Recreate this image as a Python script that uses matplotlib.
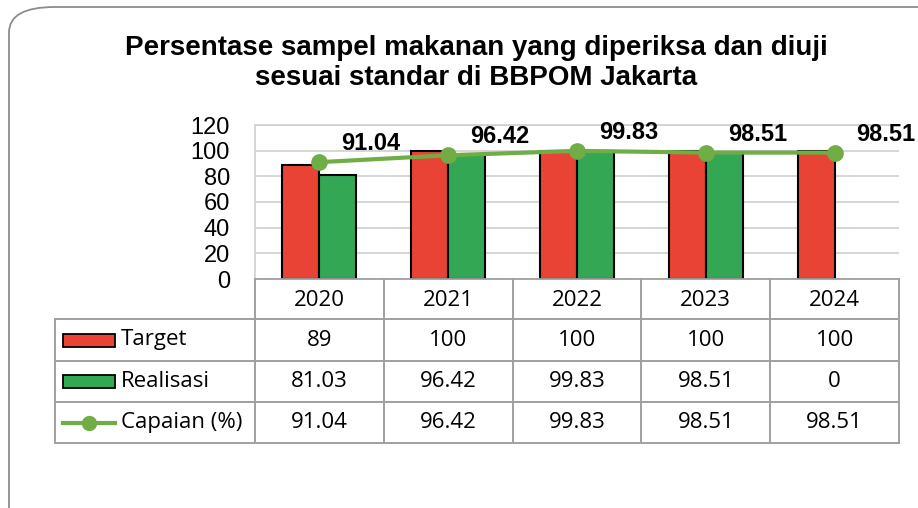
import matplotlib
matplotlib.use("Agg")
import matplotlib.pyplot as plt
from matplotlib.patches import FancyBboxPatch, Rectangle
from matplotlib.lines import Line2D

# Data
years = ["2020", "2021", "2022", "2023", "2024"]
target = [89, 100, 100, 100, 100]
realisasi = [81.03, 96.42, 99.83, 98.51, 0]
capaian = [91.04, 96.42, 99.83, 98.51, 98.51]
series_names = ["Target", "Realisasi", "Capaian (%)"]
title = "Persentase sampel makanan yang diperiksa dan diuji\nsesuai standar di BBPOM Jakarta"

RED = "#E94335"
GREEN = "#34A755"
LINE_GREEN = "#70AD47"
GRID = "#D0D0D0"
TABLE_LINE = "#A0A0A0"

W, H = 918, 508
fig = plt.figure(figsize=(W / 100, H / 100), dpi=100)
fig.patch.set_facecolor("white")


def px_rect(x0, y0, x1, y1):
    """Convert a pixel box (top-left origin) into figure fractions."""
    return [x0 / W, 1 - y1 / H, (x1 - x0) / W, (y1 - y0) / H]


# Rounded outer frame
frame = FancyBboxPatch((9 / W, -0.2), 1.2, 1.2 - 7 / H,
                       boxstyle="round,pad=0,rounding_size=0.05",
                       transform=fig.transFigure, facecolor="none",
                       edgecolor="#8C8C8C", linewidth=1.3, zorder=0)
fig.patches.append(frame)

fig.text(476 / W, 1 - 63 / H, title, ha="center", va="center",
         fontsize=20, fontweight="bold", family="Liberation Sans",
         linespacing=1.22, color="#000000")

# Plot area
PL, PR, PT, PB = 255, 899, 125, 279
ax = fig.add_axes(px_rect(PL, PT, PR, PB))
n = len(years)
xs = list(range(n))
ax.set_xlim(-0.5, n - 0.5)
ax.set_ylim(0, 120)
ax.set_yticks(range(0, 121, 20))
ax.set_xticks([])
ax.tick_params(axis="y", length=0, labelsize=17, pad=18)
for lab in ax.get_yticklabels():
    lab.set_family("Liberation Sans")
ax.grid(axis="y", color=GRID, linewidth=1.2)
ax.set_axisbelow(True)
for s in ["left", "top"]:
    ax.spines[s].set_color(GRID)
    ax.spines[s].set_linewidth(1.2)
ax.spines["right"].set_visible(False)
ax.spines["bottom"].set_color(TABLE_LINE)
ax.spines["bottom"].set_linewidth(1.3)

bw = 0.288
ax.bar([x - bw / 2 for x in xs], target, width=bw, color=RED,
       edgecolor="black", linewidth=[1.5 if v else 0 for v in target], zorder=2)
ax.bar([x + bw / 2 for x in xs], realisasi, width=bw, color=GREEN,
       edgecolor="black", linewidth=[1.5 if v else 0 for v in realisasi], zorder=2)
ax.plot(xs, capaian, color=LINE_GREEN, linewidth=3, marker="o",
        markersize=11, zorder=4, clip_on=False)
for x, v in zip(xs, capaian):
    ax.annotate(f"{v:.2f}", (x, v), xytext=(22, 7), textcoords="offset pixels",
                ha="left", va="bottom", fontsize=17, fontweight="bold",
                family="Liberation Sans", annotation_clip=False, zorder=5)

# Data table below the plot
TL, TB = 55, 443
cat_w = (PR - PL) / n
tax = fig.add_axes(px_rect(TL, PB, PR, TB))
x_left = -0.5 - (PL - TL) / cat_w
tax.set_xlim(x_left, n - 0.5)
row_h = [40, 42, 41, 41]
tot = sum(row_h)
tax.set_ylim(tot, 0)
tax.axis("off")
edges = [0]
for h in row_h:
    edges.append(edges[-1] + h)
lw = 1.4
# vertical lines
for i in range(n + 1):
    tax.plot([i - 0.5, i - 0.5], [0, tot], color=TABLE_LINE, lw=lw, clip_on=False)
tax.plot([x_left, x_left], [edges[1], tot], color=TABLE_LINE, lw=lw, clip_on=False)
# horizontal lines
for e in edges[1:]:
    tax.plot([x_left, n - 0.5], [e, e], color=TABLE_LINE, lw=lw, clip_on=False)

tfont = dict(family="Open Sans", fontsize=16, color="black")
for i, yr in enumerate(years):
    tax.text(i, (edges[0] + edges[1]) / 2 + 1, yr, ha="center", va="center", **tfont)
rows = [target, realisasi, capaian]
for r, vals in enumerate(rows):
    yc = (edges[r + 1] + edges[r + 2]) / 2
    for i, v in enumerate(vals):
        s = f"{v:g}" if r == 0 or v == 0 else f"{v:.2f}"
        tax.text(i, yc, s, ha="center", va="center", **tfont)

# Legend keys in the first column (pixel coordinates)
kx0, kx1 = 63, 115
for r, name in enumerate(series_names):
    yc_px = PB + (edges[r + 1] + edges[r + 2]) / 2
    if r < 2:
        col = RED if r == 0 else GREEN
        fig.patches.append(Rectangle((kx0 / W, 1 - (yc_px + 6.5) / H),
                                     (kx1 - kx0) / W, 13 / H,
                                     transform=fig.transFigure, facecolor=col,
                                     edgecolor="black", linewidth=1.3))
    else:
        fig.lines.append(Line2D([kx0 / W, kx1 / W], [1 - yc_px / H] * 2,
                                transform=fig.transFigure, color=LINE_GREEN,
                                linewidth=3))
        fig.lines.append(Line2D([(kx0 + kx1) / 2 / W], [1 - yc_px / H],
                                transform=fig.transFigure, color=LINE_GREEN,
                                marker="o", markersize=10))
    fig.text(121 / W, 1 - yc_px / H, name, ha="left", va="center", **tfont)

fig.savefig("out.png", dpi=100)
